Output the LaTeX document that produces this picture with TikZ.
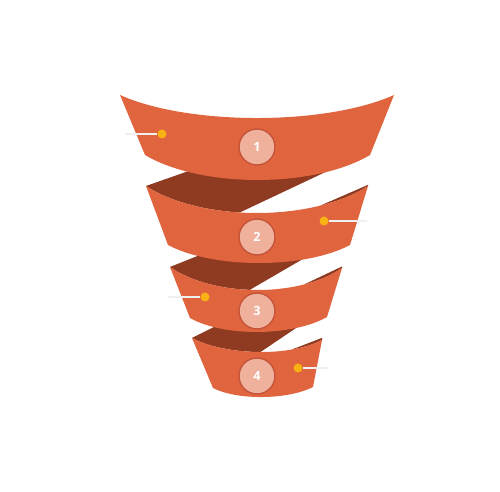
\documentclass[tikz,border=0pt]{standalone}
\usepackage{fontspec}
\setmainfont{Open Sans}
\definecolor{band}{HTML}{E0643D}
\definecolor{inner}{HTML}{8F3B22}
\definecolor{badge}{HTML}{EFB09C}
\definecolor{badgeline}{HTML}{C4553A}
\definecolor{dot}{HTML}{F9B215}
\definecolor{tick}{HTML}{F0F0F0}

\begin{document}
\begin{tikzpicture}
  [x=0.02cm,y=-0.02cm,
   front/.style={fill=band},
   back/.style={fill=inner},
   num/.style={circle,fill=badge,draw=badgeline,line width=0.8pt,minimum size=0.72cm,
     inner sep=0pt,text=white,font=\bfseries\fontsize{7.2}{8}\selectfont},
   pin/.style={circle,fill=dot,minimum size=0.18cm,inner sep=0pt},
   lead/.style={draw=tick,line width=0.7pt}]
  \fill[white] (0,0) rectangle (500,492);
  \useasboundingbox (0,0) rectangle (500,492);

  % band 4
  \begin{scope}
    \clip (192,338) .. controls (224.5,355.3) and (289.5,357.3) .. (322,340) -- (322,300) -- (192,300) -- cycle;
    \fill[back] (192,338) -- (222,323) -- (305,322) -- (262,351) -- (256,355) -- (192,355) -- cycle;
    \fill[back] (288,351) -- (323,337.5) -- (323,360) -- cycle;
  \end{scope}
  \fill[front] (192,338) .. controls (224.5,355.3) and (289.5,357.3) .. (322,340)
    -- (313,387) .. controls (288,399.7) and (238,400.7) .. (213,388) -- cycle;

  % band 3
  \begin{scope}
    \clip (170,267) .. controls (213,297) and (299,298) .. (342,268) -- (342,230) -- (170,230) -- cycle;
    \fill[back] (170,267) -- (205,253) -- (205,245) -- (327,245) -- (253,288) -- (245,293) -- (170,293) -- cycle;
    \fill[back] (303,285) -- (343,266) -- (343,300) -- cycle;
  \end{scope}
  \fill[front] (170,267) .. controls (213,297) and (299,298) .. (342,268)
    -- (327,317) .. controls (292.75,336.3) and (224.25,337.3) .. (190,318) -- cycle;

  % band 2
  \begin{scope}
    \clip (146,186) .. controls (201.5,222) and (312.5,222) .. (368,186) -- (368,150) -- (146,150) -- cycle;
    \fill[back] (146,186) -- (200,167) -- (200,160) -- (351,160) -- (240,212.4) -- (232,216) -- (146,216) -- cycle;
    \fill[back] (316,207.5) -- (370,184) -- (370,230) -- cycle;
  \end{scope}
  \fill[front] (146,186) .. controls (201.5,222) and (312.5,222) .. (368,186)
    -- (350,245) .. controls (304.5,269) and (213.5,269) .. (168,245) -- cycle;

  % band 1
  \fill[front] (120,95) .. controls (188.5,125.7) and (325.5,125.7) .. (394,95)
    -- (370,155) .. controls (313.75,188.3) and (201.25,188.3) .. (145,155) -- cycle;

  % numbers
  \foreach \n/\y in {1/147,2/237,3/311,4/376}
    \node[num] (b\n) at (257,\y) {\n};

  % markers
  \foreach \n/\px/\py/\ex in {1/162/134/125,2/324/221/367,3/205/297/168,4/298/368/328} {
    \coordinate (e\n) at (\ex,\py);
    \node[pin] (p\n) at (\px,\py) {};
    \draw[lead] (e\n) -- (p\n);
  }
\end{tikzpicture}
\end{document}
